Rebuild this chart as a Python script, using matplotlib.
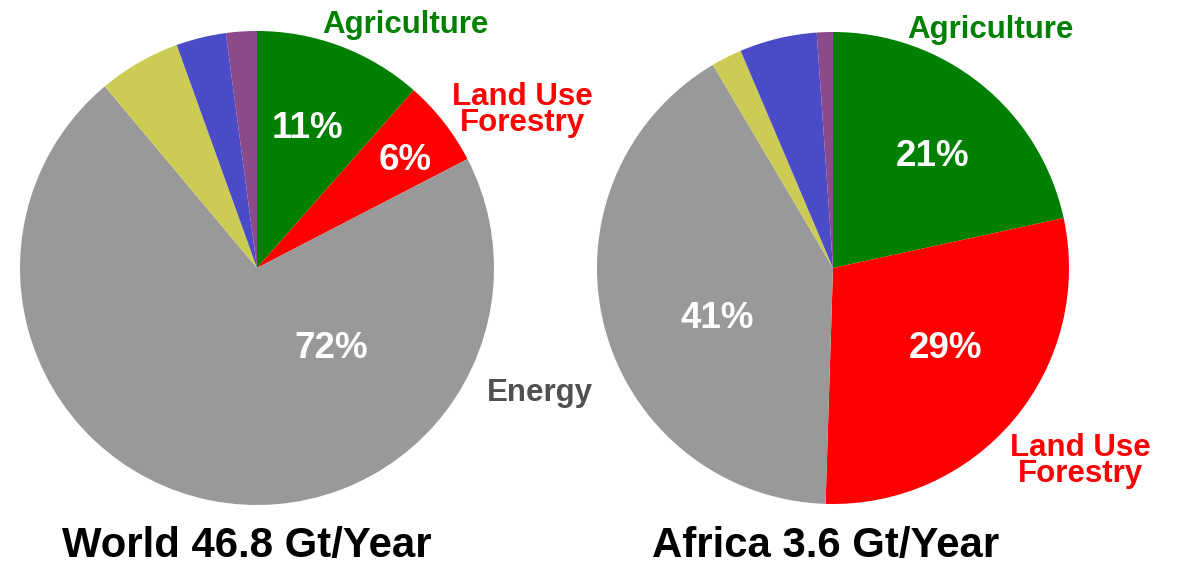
import matplotlib.pyplot as plt

# slice shares (clockwise from 12 o'clock)
sectors = ['Agriculture', 'Land Use Forestry', 'Energy', 'Other 1', 'Other 2', 'Other 3']
world_vals = [11.5, 5.9, 71.5, 5.6, 3.4, 2.1]
africa_vals = [21.6, 28.9, 41.0, 2.1, 5.3, 1.1]
world_pct = ['11%', '6%', '72%']
africa_pct = ['21%', '29%', '41%']
colors = ['#008000', '#ff0000', '#999999', '#cccc55', '#4b4bc8', '#8b4b8b']

W, H = 1181, 564
plt.rcParams['font.family'] = ['Liberation Sans', 'DejaVu Sans']
fig = plt.figure(figsize=(W / 100, H / 100), dpi=100)


def px(x, y):
    # pixel coords (top-left origin) -> figure fraction
    return x / W, 1 - y / H


def draw_pie(vals, cx, cy, r):
    ax = fig.add_axes([(cx - r) / W, (H - cy - r) / H, 2 * r / W, 2 * r / H])
    ax.pie(vals, colors=colors, startangle=90, counterclock=False,
           wedgeprops=dict(linewidth=0))
    ax.set_xlim(-1, 1)
    ax.set_ylim(-1, 1)
    ax.axis('off')
    return ax


draw_pie(world_vals, 257, 268, 237)
draw_pie(africa_vals, 833, 268, 236)

def txt(x, y, s, size, color, **kw):
    fig.text(*px(x, y + 3), s, fontsize=size, color=color, fontweight='bold',
             ha='center', va='center', **kw)

# percentages
for (x, y), s in zip([(307, 125), (405, 157), (331, 346)], world_pct):
    txt(x, y, s, 26.5, 'white')
for (x, y), s in zip([(933, 153), (946, 345), (717, 315)], africa_pct):
    txt(x, y, s, 26.5, 'white')

# category labels
txt(405, 22, 'Agriculture', 22.5, '#008000')
txt(522, 107, 'Land Use\nForestry', 22.5, '#ff0000', linespacing=0.85)
txt(540, 390, 'Energy', 22.5, '#505050')
txt(990, 27, 'Agriculture', 22.5, '#008000')
txt(1080, 458, 'Land Use\nForestry', 22.5, '#ff0000', linespacing=0.85)

# titles
txt(247, 543, 'World 46.8 Gt/Year', 30.2, 'black')
txt(826, 543, 'Africa 3.6 Gt/Year', 30.2, 'black')

fig.savefig('out.png', dpi=100)
